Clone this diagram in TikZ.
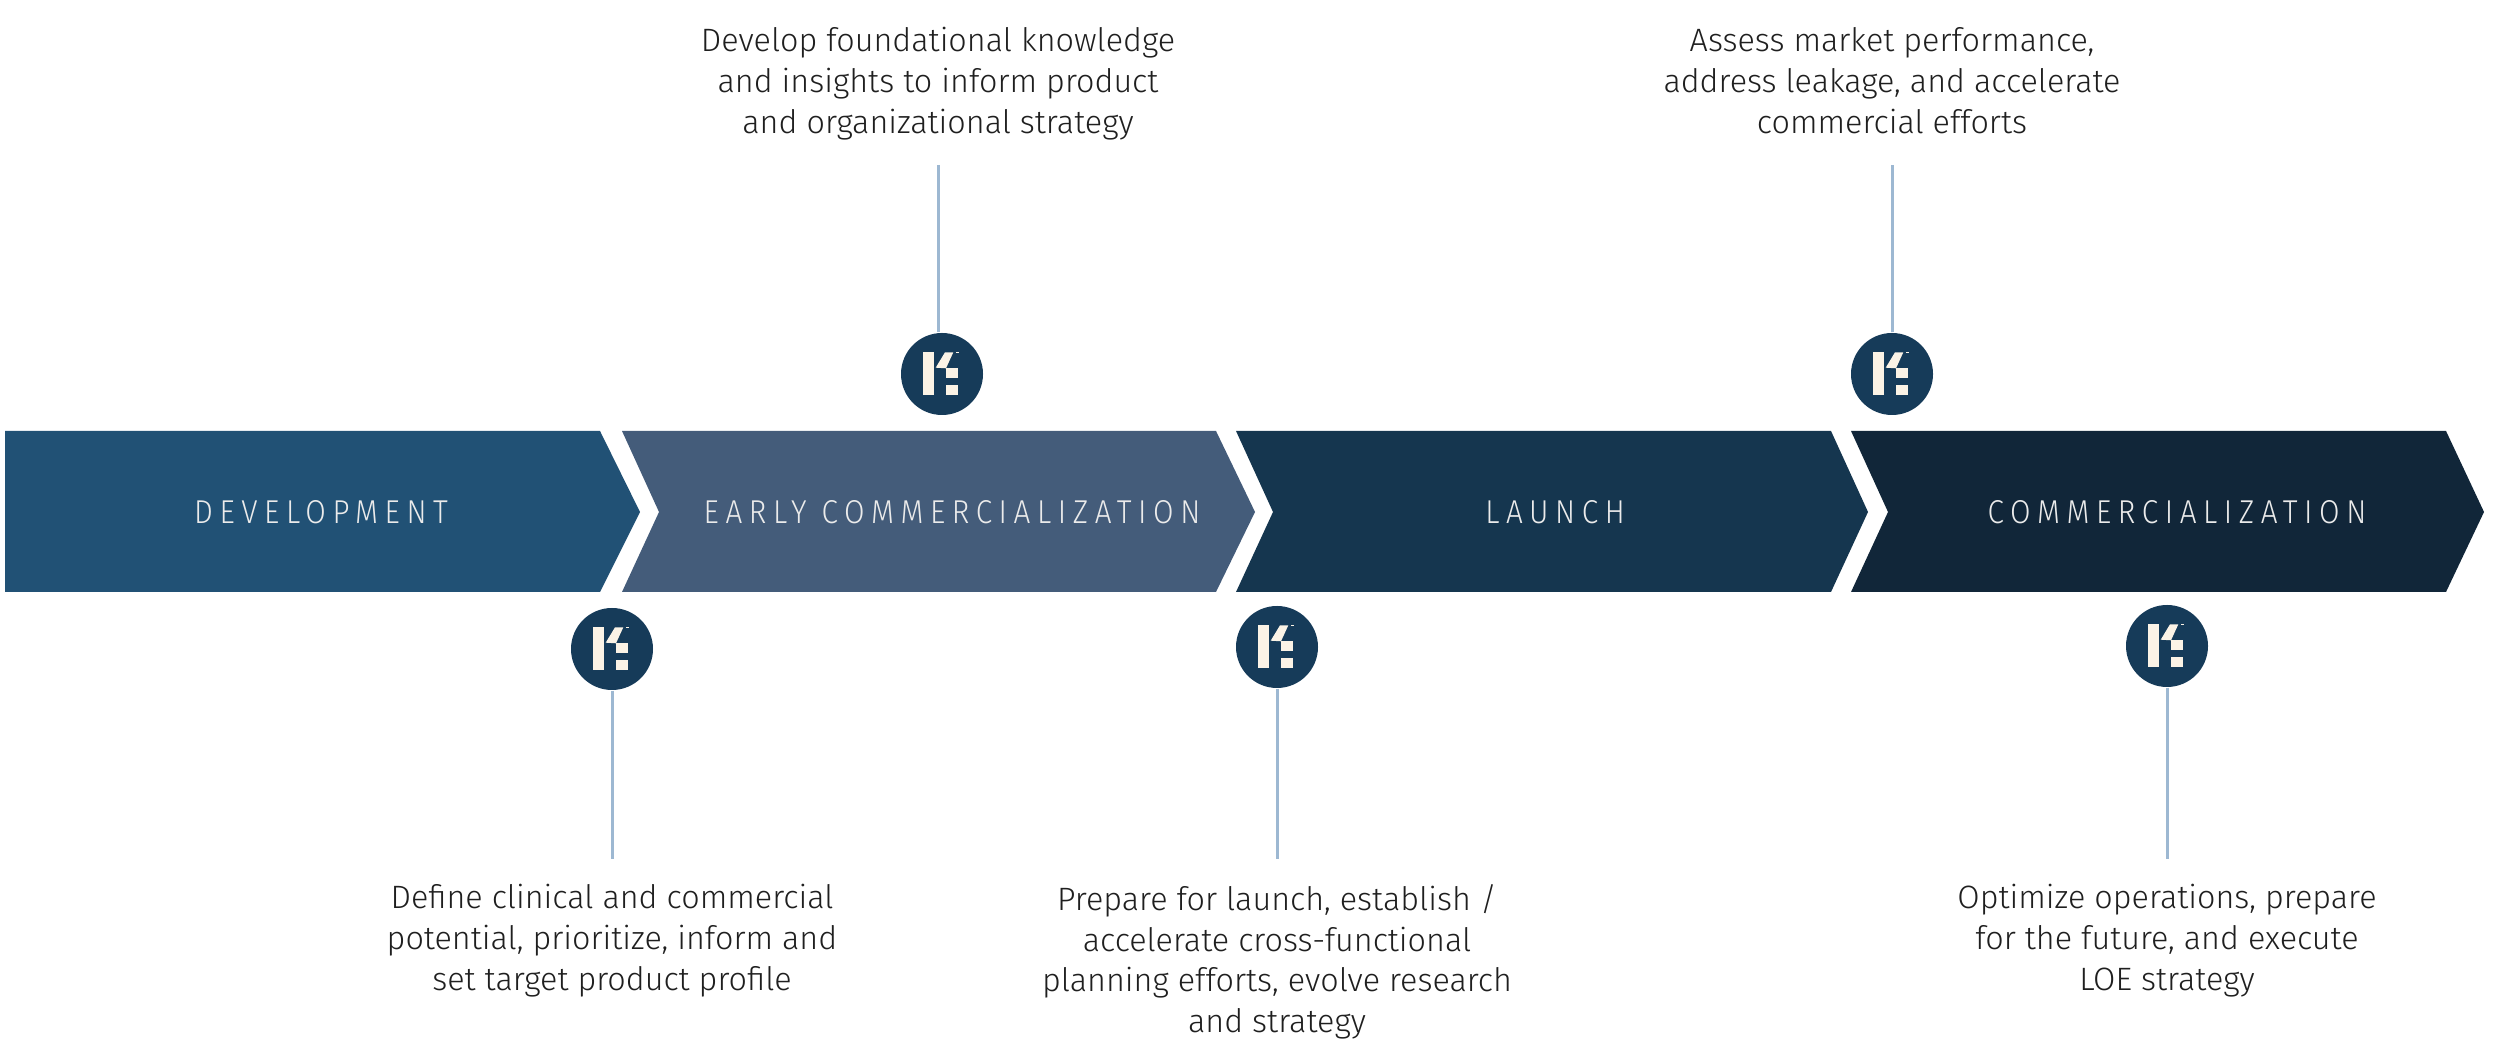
\documentclass[tikz,border=0pt]{standalone}
\usepackage{fontspec}
\setmainfont{Fira Sans Light}
\newfontfamily\stagefont[LetterSpace=20,FakeStretch=0.9]{Fira Sans Light}
\definecolor{devblue}{HTML}{215175}
\definecolor{earlyblue}{HTML}{445C7A}
\definecolor{launchblue}{HTML}{15364F}
\definecolor{commblue}{HTML}{112639}
\definecolor{dotblue}{HTML}{163B59}
\definecolor{stemblue}{HTML}{9DB8D2}
\definecolor{logocream}{HTML}{FBF3E6}
\definecolor{inktext}{HTML}{1F1F1F}
\newcommand{\logomark}[1]{%
	\begin{scope}[shift={(#1.center)}]
		\fill[logocream] (-.187,-.21) rectangle (-.077,.217);
		\fill[logocream] (-.063,.063) -- (.03,.217) -- (.113,.217) -- (.04,.057) -- cycle;
		\fill[logocream] (.04,-.043) rectangle (.157,.057);
		\fill[logocream] (.04,-.21) rectangle (.157,-.11);
		\fill[logocream] (.14,.21) rectangle (.17,.22);
	\end{scope}
}
\begin{document}
\begin{tikzpicture}[
		stage/.style={font=\stagefont\fontsize{9.4}{11}\selectfont, text=white!92!black},
		dot/.style={circle, fill=dotblue, minimum size=0.82cm, inner sep=0pt},
		blurb/.style={align=center, font=\fontsize{9.2}{11.6}\selectfont, text=inktext, inner sep=7pt},
		stem/.style={stemblue, line width=0.85pt},
	]
	\useasboundingbox (0,0) rectangle (25,10.57);

	\fill[devblue] (0.05,6.26) -- (6.00,6.26) -- (6.40,5.45) -- (6.00,4.65) -- (0.05,4.65) -- cycle;
	\fill[earlyblue] (6.22,6.26) -- (12.16,6.26) -- (12.55,5.45) -- (12.16,4.65) -- (6.22,4.65) -- (6.59,5.45) -- cycle;
	\fill[launchblue] (12.36,6.26) -- (18.31,6.26) -- (18.68,5.45) -- (18.31,4.65) -- (12.36,4.65) -- (12.73,5.45) -- cycle;
	\fill[commblue] (18.51,6.26) -- (24.46,6.26) -- (24.84,5.45) -- (24.46,4.65) -- (18.51,4.65) -- (18.88,5.45) -- cycle;

	\node[stage] (dev) at (3.21,5.45) {DEVELOPMENT};
	\node[stage] (early) at (9.52,5.45) {EARLY COMMERCIALIZATION};
	\node[stage] (launch) at (15.55,5.45) {LAUNCH};
	\node[stage] (comm) at (21.77,5.45) {COMMERCIALIZATION};

	\node[dot] (d1) at (6.12,4.08) {};
	\node[dot] (d2) at (9.42,6.83) {};
	\node[dot] (d3) at (12.77,4.10) {};
	\node[dot] (d4) at (18.92,6.83) {};
	\node[dot] (d5) at (21.67,4.11) {};

	\node[blurb, anchor=north] (t1) at (6.12,1.98) {Define clinical and commercial\\potential, prioritize, inform and\\set target product profile};
	\node[blurb, anchor=south] (t2) at (9.38,8.92) {Develop foundational knowledge\\and insights to inform product\\and organizational strategy};
	\node[blurb, anchor=north] (t3) at (12.77,1.98) {Prepare for launch, establish /\\accelerate cross-functional\\planning efforts, evolve research\\and strategy};
	\node[blurb, anchor=south] (t4) at (18.92,8.92) {Assess market performance,\\address leakage, and accelerate\\commercial efforts\vphantom{y}};
	\node[blurb, anchor=north] (t5) at (21.67,1.98) {Optimize operations, prepare\\for the future, and execute\\LOE strategy};

	\draw[stem] (d1) -- (t1);
	\draw[stem] (t2.south) -- (t2.south |- d2.north);
	\draw[stem] (d3) -- (t3);
	\draw[stem] (d4) -- (t4);
	\draw[stem] (d5) -- (t5);

	\logomark{d1}
	\logomark{d2}
	\logomark{d3}
	\logomark{d4}
	\logomark{d5}
\end{tikzpicture}
\end{document}
